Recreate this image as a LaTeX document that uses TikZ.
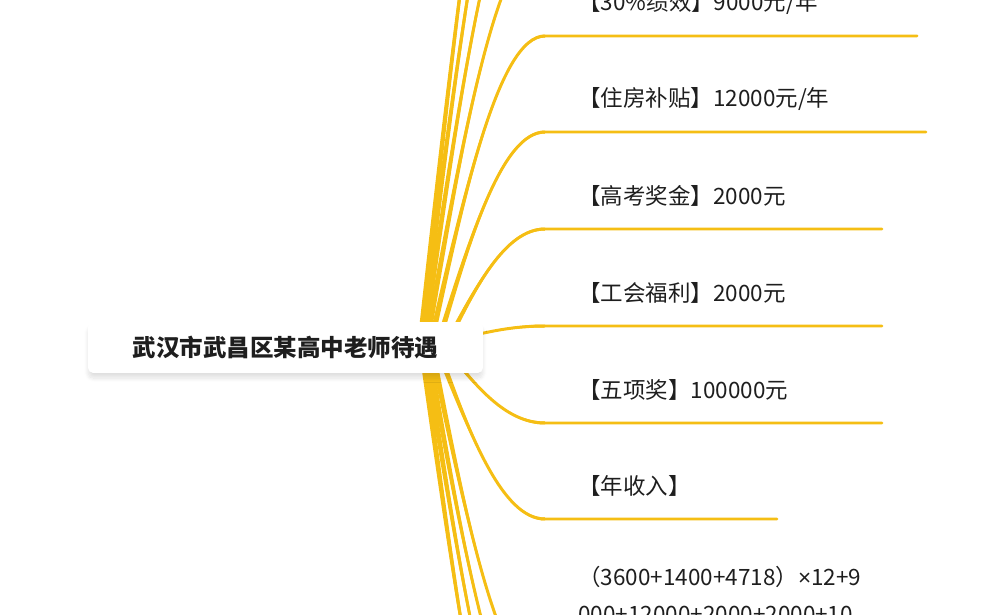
\documentclass[tikz,border=0pt]{standalone}
\usepackage{fontspec}
\setmainfont{Noto Sans CJK SC}
\newfontfamily\latinfont{Liberation Sans}
\usetikzlibrary{positioning, calc, shadows.blur}
\definecolor{branchyellow}{RGB}{245,190,20}
\definecolor{textdark}{RGB}{30,30,30}

\begin{document}
\begin{tikzpicture}[x=0.02cm, y=-0.02cm,
        rootbox/.style={rectangle, fill=white, rounded corners=3pt, minimum width=7.9cm, minimum height=1.02cm, text=textdark, font=\fontsize{13.4}{16}\selectfont\bfseries, blur shadow={shadow xshift=0pt, shadow yshift=-3pt, shadow opacity=12, shadow blur steps=12}},
        leaf/.style={anchor=west, inner sep=0pt, align=left, text=textdark, font=\fontsize{12.8}{21}\selectfont},
        branch/.style={draw=branchyellow, line width=1.7pt, line cap=round}
    ]
        \useasboundingbox (0,0) rectangle (985,615);
        \clip (0,0) rectangle (985,615);

        % branch curves: name / start x / start y / line y / line end x
        \foreach \n/\sx/\sy/\ey/\ex in {
            u1/470/336/326/882, u2/445/347/229/882, u3/437/347/132/926, u4/430/347/36/917,
            u5/426/347/-61/900, u6/423/347/-158/900, u7/421/347/-255/900, u8/420/347/-352/900,
            d1/447/350/423/882, d2/438/350/519/777, d3/432/350/685/900,
            d4/428/350/745/900, d5/425/350/810/900, d6/422/350/890/900} {
            \coordinate (\n-s) at (\sx,\sy);
            \coordinate (\n-c1) at ({\sx+0.3*(545-\sx)},{(\sy+\ey)/2});
            \coordinate (\n-c2) at ({545-0.4*(545-\sx)},\ey);
            \coordinate (\n-a) at (545,\ey);
            \coordinate (\n-b) at (\ex,\ey);
            % thicker near the root
            \fill[branchyellow] ([xshift=-1.7pt]\n-s) .. controls ([xshift=-1pt]\n-c1) and ([yshift=0.85pt]\n-c2) .. ([yshift=0.85pt]\n-a)
                -- ([yshift=-0.85pt]\n-a) .. controls ([yshift=-0.85pt]\n-c2) and ([xshift=1pt]\n-c1) .. ([xshift=1.7pt]\n-s) -- cycle;
            \draw[branch] (\n-s) .. controls (\n-c1) and (\n-c2) .. (\n-a) -- (\n-b);
        }

        \node[rootbox] (root) at (285.5,347.5) {武汉市武昌区某高中老师待遇};

        \node[leaf] (jixiao) at (578,3) {【30\%绩效】9000元/年};
        \node[leaf] (zhufang) at (578,99) {【住房补贴】12000元/年};
        \node[leaf] (gaokao) at (578,196) {【高考奖金】2000元};
        \node[leaf] (gonghui) at (578,293) {【工会福利】2000元};
        \node[leaf] (wuxiang) at (578,390) {【五项奖】100000元};
        \node[leaf] (nianshou) at (578,486) {【年收入】};
        \node[leaf, anchor=north west] (gongshi) at (578,566) {（3600+1400+4718）{\latinfont ×}12+9\\000+12000+2000+2000+10};
    \end{tikzpicture}
\end{document}
